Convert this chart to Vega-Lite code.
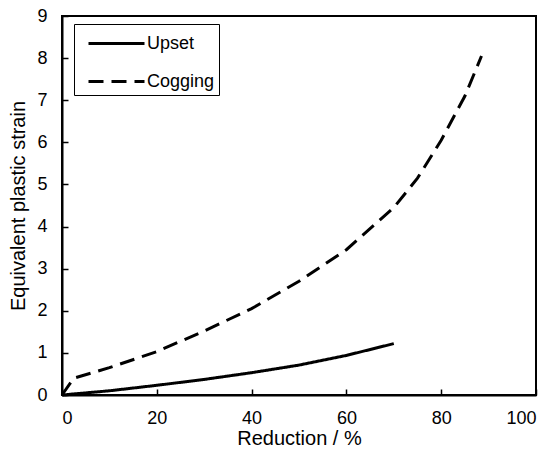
{
  "$schema": "https://vega.github.io/schema/vega-lite/v6.json",
  "width": 474,
  "height": 379,
  "autosize": {"type": "none"},
  "padding": {"left": 62, "top": 16, "right": 14, "bottom": 58},
  "background": "white",
  "data": {
    "values": [
      {"series": "Upset", "reduction": 0, "strain": 0},
      {"series": "Upset", "reduction": 10, "strain": 0.1},
      {"series": "Upset", "reduction": 20, "strain": 0.23},
      {"series": "Upset", "reduction": 30, "strain": 0.37},
      {"series": "Upset", "reduction": 40, "strain": 0.53},
      {"series": "Upset", "reduction": 50, "strain": 0.71},
      {"series": "Upset", "reduction": 60, "strain": 0.94},
      {"series": "Upset", "reduction": 70, "strain": 1.22},
      {"series": "Cogging", "reduction": 0, "strain": 0},
      {"series": "Cogging", "reduction": 2.5, "strain": 0.4},
      {"series": "Cogging", "reduction": 10, "strain": 0.65},
      {"series": "Cogging", "reduction": 20, "strain": 1.03},
      {"series": "Cogging", "reduction": 30, "strain": 1.52},
      {"series": "Cogging", "reduction": 40, "strain": 2.05},
      {"series": "Cogging", "reduction": 50, "strain": 2.7},
      {"series": "Cogging", "reduction": 60, "strain": 3.45},
      {"series": "Cogging", "reduction": 63, "strain": 3.75},
      {"series": "Cogging", "reduction": 70, "strain": 4.45},
      {"series": "Cogging", "reduction": 75, "strain": 5.15},
      {"series": "Cogging", "reduction": 80, "strain": 6.05},
      {"series": "Cogging", "reduction": 85, "strain": 7.1},
      {"series": "Cogging", "reduction": 88.5, "strain": 8.05}
    ]
  },
  "mark": {"type": "line", "color": "black", "strokeWidth": 3},
  "encoding": {
    "x": {
      "field": "reduction", "type": "quantitative",
      "scale": {"domain": [0, 100], "nice": false, "zero": false},
      "axis": {"title": "Reduction / %", "values": [0, 20, 40, 60, 80, 100], "labelPadding": 20, "titlePadding": 1}
    },
    "y": {
      "field": "strain", "type": "quantitative",
      "scale": {"domain": [0, 9], "nice": false},
      "axis": {"title": "Equivalent plastic strain", "values": [0,1,2,3,4,5,6,7,8,9], "labelPadding": 21, "titlePadding": 8}
    },
    "strokeDash": {
      "field": "series", "type": "nominal",
      "scale": {"domain": ["Upset", "Cogging"], "range": [[1, 0], [15, 8]]},
      "legend": {
        "title": null,
        "orient": "none",
        "legendX": 12,
        "legendY": 8,
        "symbolType": "M -1,0 H 3",
        "symbolSize": 784,
        "symbolStrokeWidth": 3,
        "symbolStrokeColor": "black",
        "symbolOffset": 9,
        "labelFontSize": 18,
        "labelFont": "Liberation Sans",
        "labelColor": "black",
        "labelOffset": 29,
        "rowPadding": 13,
        "padding": 4,
        "strokeColor": "black",
        "fillColor": "white"
      }
    }
  },
  "config": {
    "view": {"stroke": "black", "strokeWidth": 2},
    "axis": {
      "grid": false,
      "domainColor": "black",
      "domainWidth": 2,
      "tickColor": "black",
      "tickWidth": 1.5,
      "tickSize": -6,
      "labelFont": "Liberation Sans",
      "labelFontSize": 18,
      "labelColor": "black",
      "titleFont": "Liberation Sans",
      "titleFontSize": 20,
      "titleFontWeight": "normal",
      "titleColor": "black"
    }
  }
}
